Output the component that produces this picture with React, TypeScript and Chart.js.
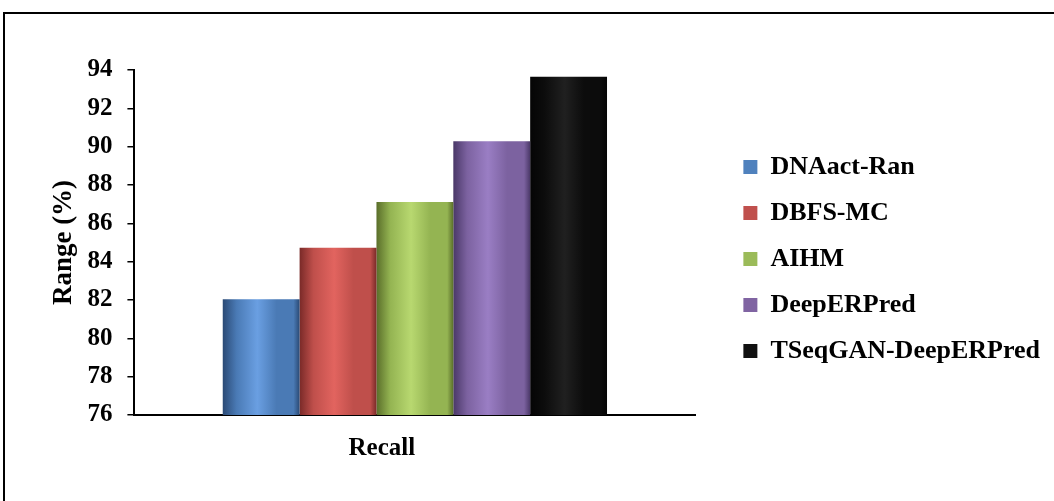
import React, { useEffect, useRef } from 'react';
import { Chart, registerables } from 'chart.js';

Chart.register(...registerables);

// ---- data ----
const categories = ['Recall'];
const seriesNames = ['DNAact-Ran', 'DBFS-MC', 'AIHM', 'DeepERPred', 'TSeqGAN-DeepERPred'];
const dnaactRan = [82.04];
const dbfsMc = [84.73];
const aihm = [87.11];
const deepErPred = [90.28];
const tseqganDeepErPred = [93.65];
const seriesValues = [dnaactRan, dbfsMc, aihm, deepErPred, tseqganDeepErPred];
const yMin = 76;
const yMax = 94;
const yStep = 2;
const yTitle = 'Range (%)';

// ---- styles ----
const legendColors = ['#4f81bd', '#c0504d', '#9bbb59', '#8064a2', '#111111'];
const shades = [
  ['#2a4a75', '#4a7ab5', '#6a9fe2'],
  ['#7a2a28', '#bf4f4b', '#e2645f'],
  ['#5a6e2a', '#94b452', '#b8d870'],
  ['#4a3868', '#7c62a0', '#9a7ec4'],
  ['#050505', '#0c0c0c', '#202020'],
];
const FONT = "'Times New Roman', 'Liberation Serif', serif";

function barFill(c: any) {
  const i = c.datasetIndex;
  const el = c.element;
  if (c.type !== 'data' || !el || !el.width || !isFinite(el.x)) return legendColors[i];
  const [dark, mid, light] = shades[i];
  const g = c.chart.ctx.createLinearGradient(el.x - el.width / 2, 0, el.x + el.width / 2, 0);
  g.addColorStop(0, dark);
  g.addColorStop(0.18, mid);
  g.addColorStop(0.45, light);
  g.addColorStop(0.7, mid);
  g.addColorStop(0.92, mid);
  g.addColorStop(1, dark);
  return g;
}

export default function App() {
  const ref = useRef<HTMLCanvasElement>(null);
  useEffect(() => {
    if (!ref.current) return;
    const chart = new Chart(ref.current, {
      type: 'bar',
      data: {
        labels: categories,
        datasets: seriesNames.map((name, i) => ({
          label: name,
          data: seriesValues[i],
          backgroundColor: barFill as any,
          borderWidth: 0,
          categoryPercentage: 0.685,
          barPercentage: 1.0,
        })),
      },
      options: {
        animation: false,
        responsive: false,
        maintainAspectRatio: false,
        layout: { padding: { left: 48, top: 44, right: 4, bottom: 27 } },
        plugins: {
          tooltip: { enabled: false },
          legend: {
            position: 'right',
            align: 'center',
            maxWidth: 420,
            labels: {
              boxWidth: 14,
              boxHeight: 14,
              padding: 20,
              color: '#000',
              font: { family: FONT, size: 26, weight: 'bold' },
              generateLabels: (ch: any) =>
                Chart.defaults.plugins.legend.labels.generateLabels(ch).map((l: any) => ({
                  ...l,
                  fillStyle: legendColors[l.datasetIndex],
                  strokeStyle: legendColors[l.datasetIndex],
                  lineWidth: 0,
                })),
            },
          },
        },
        scales: {
          x: {
            grid: { display: false },
            border: { display: true, color: '#000', width: 2 },
            ticks: {
              color: '#000',
              padding: 13,
              labelOffset: -33,
              font: { family: FONT, size: 25, weight: 'bold', lineHeight: 1 },
            },
          },
          y: {
            min: yMin,
            max: yMax,
            grid: { display: true, drawOnChartArea: false, drawTicks: true, tickLength: 7, color: '#000', lineWidth: 1.5 },
            border: { display: true, color: '#000', width: 2 },
            ticks: {
              stepSize: yStep,
              autoSkip: false,
              color: '#000',
              padding: 15,
              font: { family: FONT, size: 25, weight: 'bold', lineHeight: 1 },
            },
            title: {
              display: true,
              text: yTitle,
              color: '#000',
              padding: { top: 0, bottom: -8 },
              font: { family: FONT, size: 27, weight: 'bold', lineHeight: 1.2 },
            },
          },
          spacer: {
            type: 'linear',
            position: 'right',
            display: true,
            grid: { display: false },
            border: { display: false },
            ticks: { display: false },
            afterFit: (s: any) => {
              s.width = 28;
              s.paddingTop = 70;
            },
          },
        },
      } as any,
    });
    chart.update();
    return () => chart.destroy();
  }, []);

  return (
    <div style={{ position: 'fixed', left: 0, top: 0, width: 1054, height: 501, overflow: 'hidden', background: '#fff' }}>
      <div style={{ position: 'absolute', left: 3, top: 12, width: 2000, height: 2000, border: '2px solid #000' }} />
      <canvas ref={ref} width={1054} height={501} style={{ position: 'absolute', left: 0, top: 0, width: 1054, height: 501 }} />
    </div>
  );
}
